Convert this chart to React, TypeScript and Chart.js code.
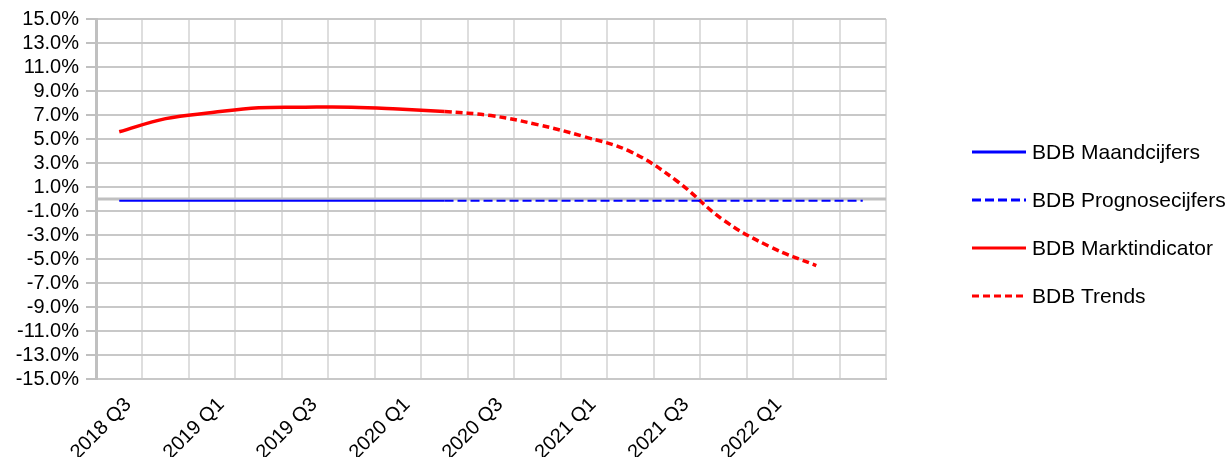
import React, { useEffect, useRef } from 'react';
import { Chart, registerables } from 'chart.js';

Chart.register(...registerables);

const quarters = [
  '2018 Q3', '2018 Q4', '2019 Q1', '2019 Q2', '2019 Q3', '2019 Q4',
  '2020 Q1', '2020 Q2', '2020 Q3', '2020 Q4', '2021 Q1', '2021 Q2',
  '2021 Q3', '2021 Q4', '2022 Q1', '2022 Q2', '2022 Q3',
];
const labeledQuarters = ['2018 Q3', '2019 Q1', '2019 Q3', '2020 Q1', '2020 Q3', '2021 Q1', '2021 Q3', '2022 Q1'];

const maandcijfers = [-0.15, -0.15, -0.15, -0.15, -0.15, -0.15, -0.15, -0.15, null, null, null, null, null, null, null, null, null];
const prognosecijfers = [null, null, null, null, null, null, null, -0.15, -0.15, -0.15, -0.15, -0.15, -0.15, -0.15, -0.15, -0.15, -0.15];
const marktindicator = [5.6, 6.7, 7.2, 7.6, 7.65, 7.65, 7.5, 7.3, null, null, null, null, null, null, null, null, null];
const trends = [null, null, null, null, null, null, null, 7.3, 6.95, 6.2, 5.2, 3.95, 1.5, -1.75, -3.97, -5.55, null];

const yMin = -15;
const yMax = 15;
const yStep = 2;

const FONT = '"Liberation Sans", Arial, sans-serif';

const zeroLinePlugin = {
  id: 'zeroLine',
  beforeDatasetsDraw(chart: any) {
    const { ctx, chartArea, scales } = chart;
    const y = scales.y.getPixelForValue(0);
    ctx.save();
    ctx.strokeStyle = '#c0c0c0';
    ctx.lineWidth = 3;
    ctx.beginPath();
    ctx.moveTo(chartArea.left, y);
    ctx.lineTo(chartArea.right, y);
    ctx.stroke();
    ctx.restore();
  },
};

const sideLegendPlugin = {
  id: 'sideLegend',
  afterDraw(chart: any) {
    const { ctx, chartArea } = chart;
    const x0 = chartArea.right + 86;
    const lineW = 54;
    const yStart = chartArea.top + 133;
    const gap = 48;
    chart.data.datasets.forEach((ds: any, i: number) => {
      const y = yStart + i * gap;
      ctx.save();
      ctx.strokeStyle = ds.borderColor;
      ctx.lineWidth = 3;
      ctx.setLineDash(ds.borderDash || []);
      ctx.beginPath();
      ctx.moveTo(x0, y);
      ctx.lineTo(x0 + lineW, y);
      ctx.stroke();
      ctx.setLineDash([]);
      ctx.fillStyle = '#000';
      ctx.font = `21px ${FONT}`;
      ctx.textBaseline = 'middle';
      ctx.textAlign = 'left';
      ctx.fillText(ds.label, x0 + lineW + 6, y + 1);
      ctx.restore();
    });
  },
};

export default function App() {
  const ref = useRef<HTMLCanvasElement | null>(null);

  useEffect(() => {
    if (!ref.current) return;
    const chart = new Chart(ref.current, {
      type: 'line',
      data: {
        labels: quarters,
        datasets: [
          {
            label: 'BDB Maandcijfers',
            data: maandcijfers,
            borderColor: '#0000ff',
            borderWidth: 2,
            pointRadius: 0,
            tension: 0,
          },
          {
            label: 'BDB Prognosecijfers',
            data: prognosecijfers,
            borderColor: '#0000ff',
            borderWidth: 2,
            borderDash: [9, 4],
            pointRadius: 0,
            tension: 0,
          },
          {
            label: 'BDB Marktindicator',
            data: marktindicator,
            borderColor: '#ff0000',
            borderWidth: 3.5,
            pointRadius: 0,
            tension: 0.4,
          },
          {
            label: 'BDB Trends',
            data: trends,
            borderColor: '#ff0000',
            borderWidth: 3.5,
            borderDash: [7, 4],
            pointRadius: 0,
            tension: 0.4,
          },
        ],
      } as any,
      options: {
        animation: false,
        responsive: true,
        maintainAspectRatio: false,
        layout: { padding: { top: 0, right: 340, left: 0, bottom: 0 } },
        plugins: {
          legend: { display: false },
          tooltip: { enabled: false },
        },
        scales: {
          x: {
            type: 'category',
            offset: true,
            grid: {
              offset: true,
              color: '#dedede',
              lineWidth: 2,
              drawTicks: false,
            },
            border: { color: '#c8c8c8', width: 2 },
            ticks: {
              autoSkip: false,
              minRotation: 45,
              maxRotation: 45,
              padding: 14,
              labelOffset: 9,
              color: '#000',
              font: { family: FONT, size: 20 },
              callback: (_v: any, idx: number) =>
                labeledQuarters.includes(quarters[idx]) ? quarters[idx] : '',
            },
            afterFit: (scale: any) => {
              scale.height = 78;
            },
          },
          y: {
            min: yMin,
            max: yMax,
            grid: {
              color: '#c8c8c8',
              lineWidth: 2,
              tickLength: 10,
              tickColor: '#c0c0c0',
            },
            border: { color: '#c0c0c0', width: 3 },
            ticks: {
              stepSize: yStep,
              autoSkip: false,
              padding: 7,
              color: '#000',
              font: { family: FONT, size: 20 },
              callback: (v: any) => `${Number(v).toFixed(1)}%`,
            },
            afterFit: (scale: any) => {
              scale.width = 96;
            },
          },
        },
      } as any,
      plugins: [zeroLinePlugin, sideLegendPlugin],
    });
    return () => chart.destroy();
  }, []);

  return (
    <div style={{ position: 'fixed', left: 0, top: 0, width: 1226, height: 457 }}>
      <canvas ref={ref} />
    </div>
  );
}
